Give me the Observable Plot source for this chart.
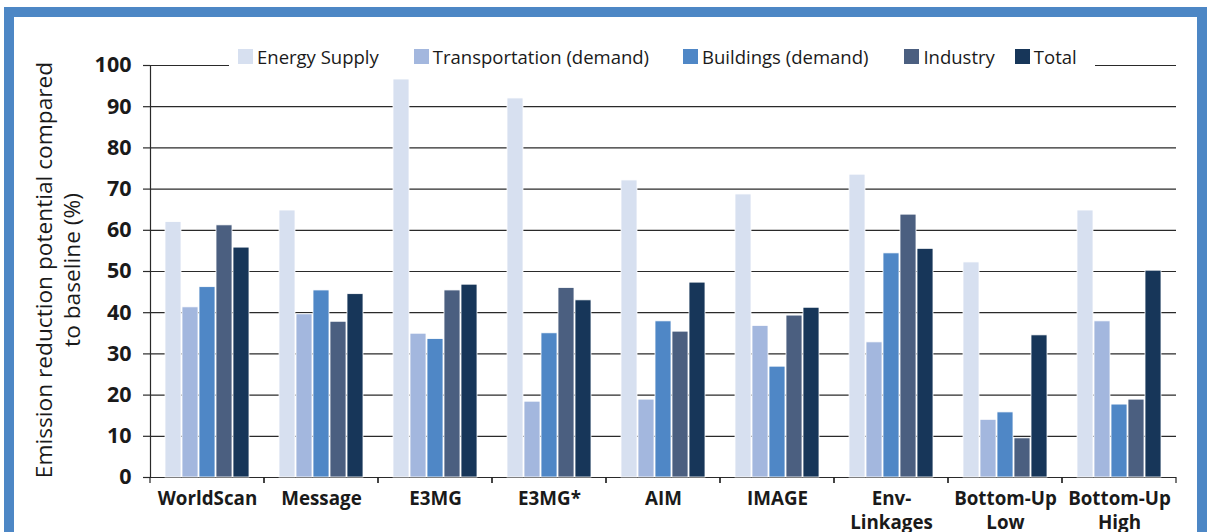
<!DOCTYPE html>
<html>
<head>
<meta charset="utf-8">
<script src="https://cdn.jsdelivr.net/npm/d3@7"></script>
<script src="https://cdn.jsdelivr.net/npm/@observablehq/plot@0.6"></script>
<style>
  html, body { margin: 0; padding: 0; background: #fff; }
  body { width: 1211px; height: 532px; overflow: hidden; position: relative; font-family: "Open Sans", "DejaVu Sans", sans-serif; }
  #frame { position: absolute; left: 4px; top: 7px; width: 1183px; height: 600px; border: 10px solid #4d87c5; border-bottom: none; background: #fff; }
  #chart { position: absolute; left: 0; top: 0; }
  #legend { position: absolute; left: 215px; top: 24px; width: 857px; height: 30px; background: #fff; display: flex; align-items: center; padding-left: 9px; font-size: 18.5px; color: #1a1a1a; }
  #legend .item { display: flex; align-items: center; white-space: nowrap; }
  #legend .sw { width: 15px; height: 15px; margin-right: 4px; }
  #ylabel { position: absolute; left: -196px; top: 225px; width: 480px; height: 56px; line-height: 28px; text-align: center; font-size: 22.7px; color: #1a1a1a; transform: rotate(-90deg); transform-origin: 50% 50%; white-space: nowrap; }
</style>
</head>
<body>
<div id="frame">
  <div id="chart"></div>
  <div id="ylabel">Emission reduction potential compared<br>to baseline (%)</div>
  <div id="legend"></div>
</div>
<script>
const models = ["WorldScan", "Message", "E3MG", "E3MG*", "AIM", "IMAGE", "Env-Linkages", "Bottom-Up Low", "Bottom-Up High"];
const modelLabels = ["WorldScan", "Message", "E3MG", "E3MG*", "AIM", "IMAGE", "Env-\nLinkages", "Bottom-Up\nLow", "Bottom-Up\nHigh"];
const sectors = ["Energy Supply", "Transportation (demand)", "Buildings (demand)", "Industry", "Total"];
const sectorColors = ["#d7e0f0", "#a3b7de", "#4f87c6", "#4b5f80", "#173659"];

const energySupply   = [62, 64.8, 96.6, 92, 72.1, 68.7, 73.5, 52.2, 64.8];
const transportation = [41.3, 39.6, 34.9, 18.4, 18.9, 36.8, 32.8, 14, 37.9];
const buildings      = [46.2, 45.4, 33.6, 35, 37.9, 26.9, 54.4, 15.8, 17.7];
const industry       = [61.2, 37.8, 45.4, 46, 35.4, 39.3, 63.8, 9.5, 18.9];
const total          = [55.8, 44.5, 46.8, 43, 47.3, 41.2, 55.5, 34.5, 50.2];

const yTicks = [0, 10, 20, 30, 40, 50, 60, 70, 80, 90, 100];

const seriesValues = [energySupply, transportation, buildings, industry, total];
const data = [];
models.forEach((m, i) => {
  sectors.forEach((s, j) => data.push({model: m, sector: s, value: seriesValues[j][i]}));
});
const labelOf = new Map(models.map((m, i) => [m, modelLabels[i]]));

const boundaryTicks = (index, scales, values, dimensions) => {
  const g = document.createElementNS("http://www.w3.org/2000/svg", "g");
  const y0 = scales.y(0);
  const x0 = dimensions.marginLeft;
  const x1 = dimensions.width - dimensions.marginRight;
  for (const x of [x0, x1]) {
    const l = document.createElementNS("http://www.w3.org/2000/svg", "line");
    l.setAttribute("x1", x); l.setAttribute("x2", x);
    l.setAttribute("y1", y0); l.setAttribute("y2", y0 + 6);
    l.setAttribute("stroke", "#222");
    l.setAttribute("stroke-width", 1.2);
    g.appendChild(l);
  }
  return g;
};

const chart = Plot.plot({
  width: 1183,
  height: 520,
  marginLeft: 134,
  marginRight: 20,
  marginTop: 48,
  marginBottom: 60,
  style: {background: "transparent", fontFamily: "'Open Sans', sans-serif", color: "#1a1a1a"},
  fx: {domain: models, padding: 0, label: null, axis: null},
  x: {domain: sectors, paddingInner: 0.05, paddingOuter: 0.79, axis: null},
  y: {domain: [0, 100], axis: null},
  color: {domain: sectors, range: sectorColors},
  marks: [
    Plot.ruleY(yTicks, {stroke: "#2a2a2a", strokeWidth: 1.2}),
    Plot.barY(data, {fx: "model", x: "sector", y: "value", fill: "sector", stroke: "#ffffff", strokeWidth: 0.8}),
    Plot.axisY({ticks: yTicks, tickSize: 7, tickPadding: 12, fontSize: 21.5, fontWeight: "bold", label: null, stroke: "#2a2a2a", strokeWidth: 1.2}),
    Plot.frame({anchor: "left", facetAnchor: "left", stroke: "#2a2a2a", strokeWidth: 1.2}),
    Plot.axisFx({anchor: "bottom", tickSize: 0, tickPadding: 10, fontSize: 18.8, fontWeight: "bold", label: null, lineHeight: 1.28, tickFormat: d => labelOf.get(d)}),
    boundaryTicks
  ]
});
document.getElementById("chart").appendChild(chart);

const legendGaps = [35, 34, 36, 20, 0];
const legend = document.getElementById("legend");
sectors.forEach((s, i) => {
  const item = document.createElement("div");
  item.className = "item";
  item.style.marginRight = legendGaps[i] + "px";
  const sw = document.createElement("div");
  sw.className = "sw";
  sw.style.background = sectorColors[i];
  const t = document.createElement("span");
  t.textContent = s;
  item.appendChild(sw); item.appendChild(t);
  legend.appendChild(item);
});
</script>
</body>
</html>
